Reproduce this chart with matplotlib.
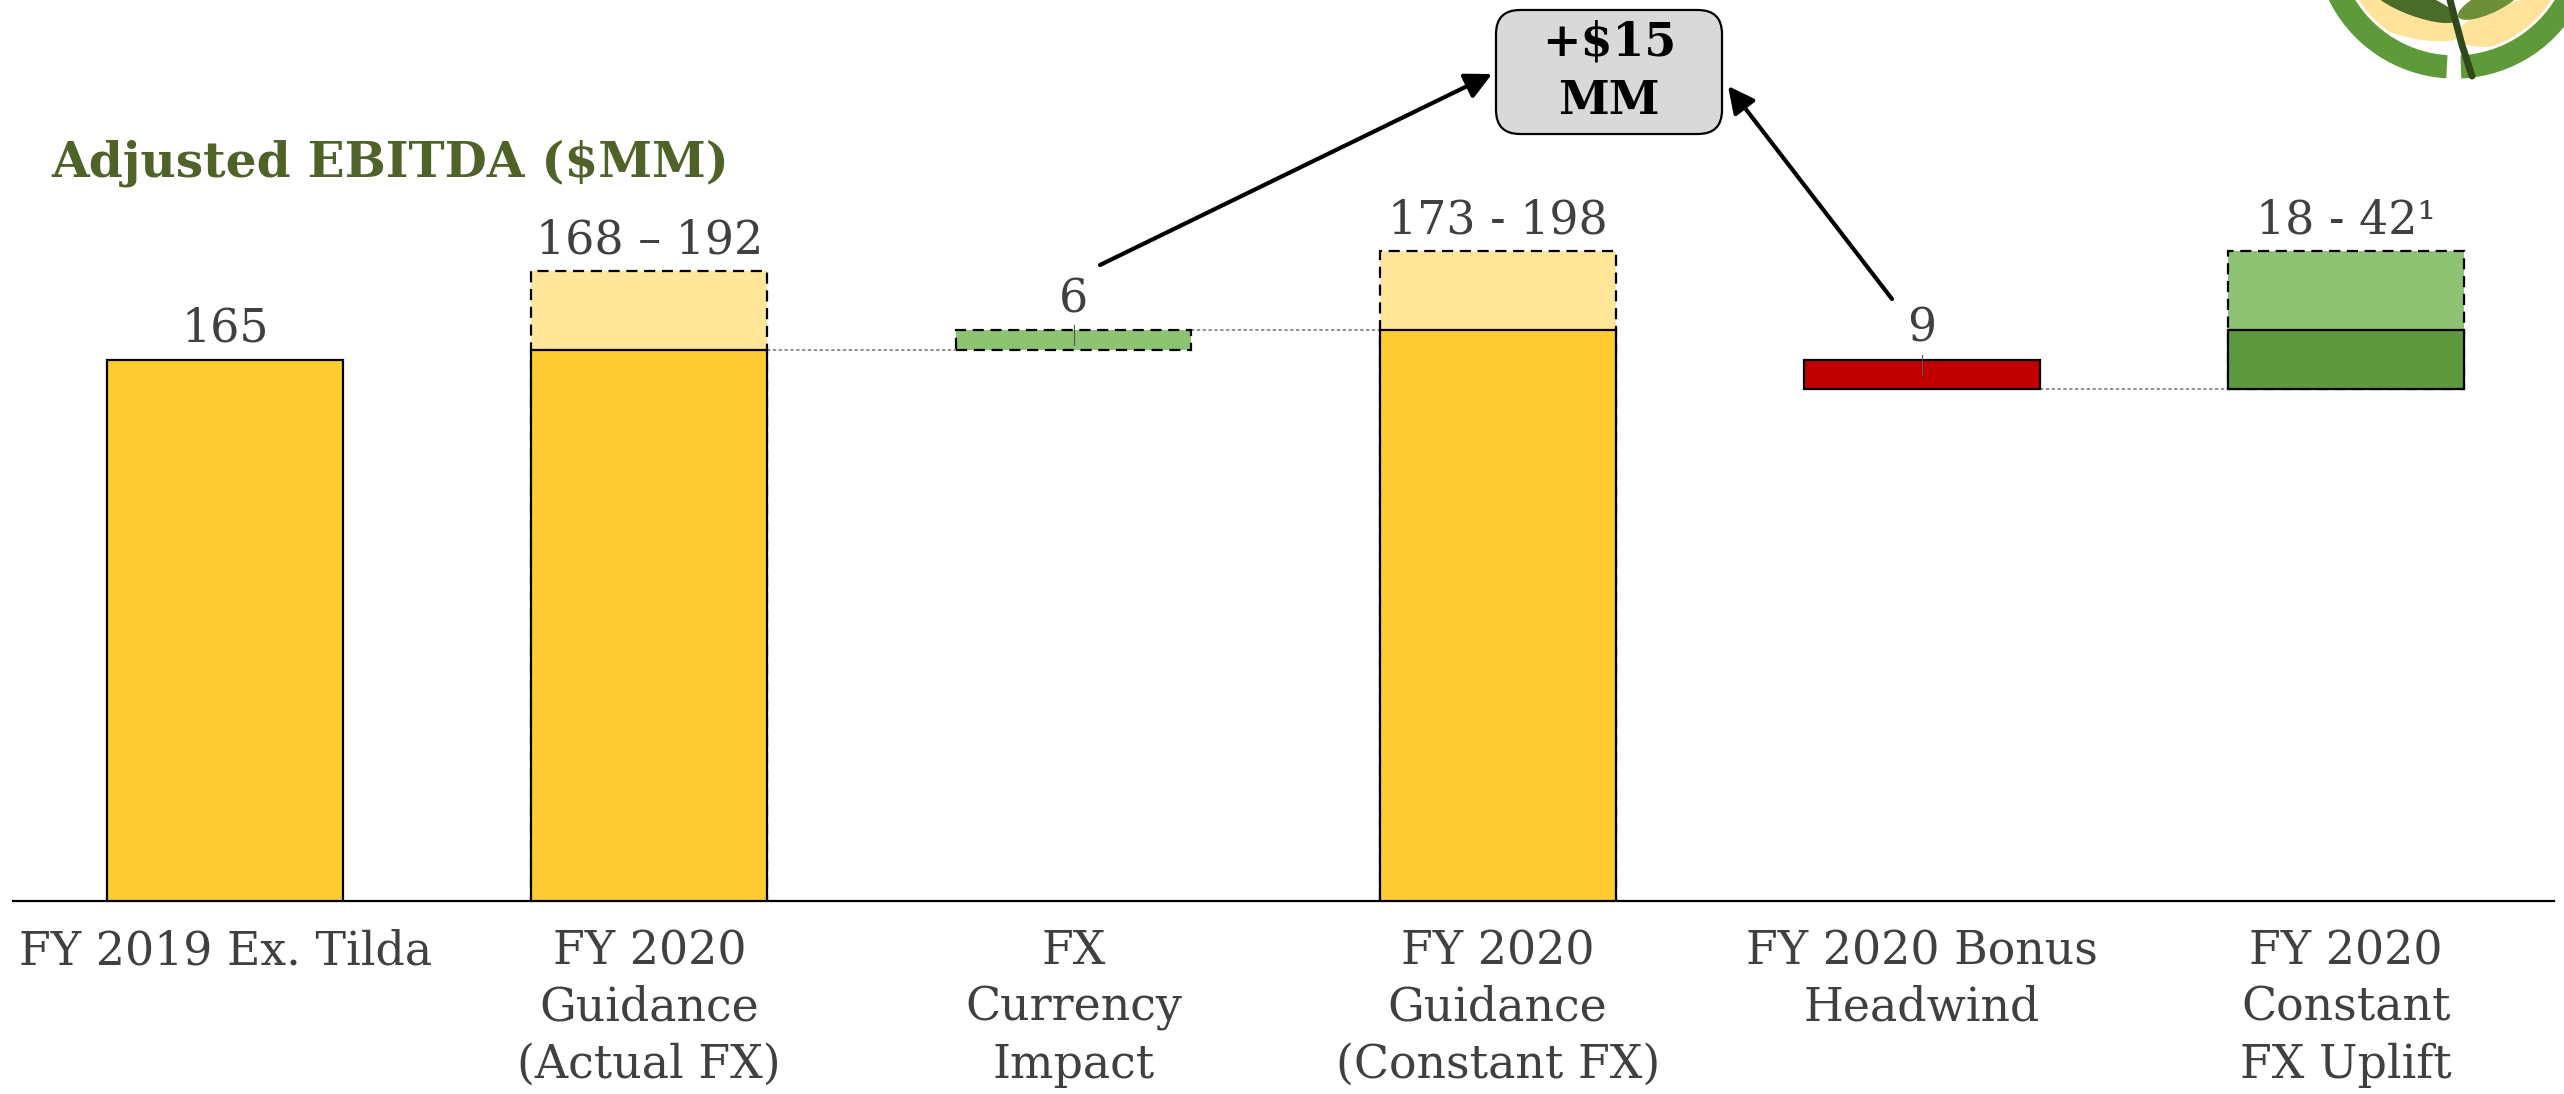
import matplotlib.pyplot as plt
from matplotlib.patches import FancyBboxPatch, Wedge, Ellipse
import numpy as np

plt.rcParams['font.family'] = ['DejaVu Serif']

# ---- data ----
categories = ["FY 2019 Ex. Tilda", "FY 2020\nGuidance\n(Actual FX)", "FX\nCurrency\nImpact",
              "FY 2020\nGuidance\n(Constant FX)", "FY 2020 Bonus\nHeadwind", "FY 2020\nConstant\nFX Uplift"]
bar_bottom = [0, 0, 168, 0, 156, 156]
solid_top = [165, 168, None, 174, 165, 174]     # solid part of the bar
range_top = [None, 192, 174, 198, None, 198]    # dashed (range) part of the bar
value_labels = ["165", "168 \u2013 192", "6", "173 - 198", "9", "18 - 42\u00b9"]
solid_colors = ['#FFCC33', '#FFCC33', None, '#FFCC33', '#C00000', '#5E993E']
range_colors = [None, '#FFE699', '#8DC372', '#FFE699', None, '#8DC372']
connectors = [(1, 2, 168), (2, 3, 174), (4, 5, 156)]  # from bar, to bar, level
callout = "+$15\nMM"

W, H = 2564, 1094
fig = plt.figure(figsize=(W / 100, H / 100), dpi=100)
ax = fig.add_axes([13 / W, 193 / H, 2541 / W, 901 / H])
ax.set_xlim(-0.5, 5.49)
ax.set_ylim(0, 274.6)

x = np.arange(len(categories))
bw = 0.556
txt = '#404040'

for i in range(len(categories)):
    b = bar_bottom[i]
    if range_top[i] is not None:
        ax.bar(x[i], range_top[i] - b, bw, bottom=b, color=range_colors[i],
               edgecolor='black', linewidth=1.6, linestyle=(0, (5, 3)), zorder=2)
    if solid_top[i] is not None:
        ax.bar(x[i], solid_top[i] - b, bw, bottom=b, color=solid_colors[i],
               edgecolor='black', linewidth=1.6, zorder=3)
    top = max(v for v in (solid_top[i], range_top[i]) if v is not None)
    ax.annotate(value_labels[i], (x[i], top), xytext=(0, 22), textcoords='offset points',
                ha='center', va='center', fontsize=33, color=txt)

# small tick remnants inside the thin bars
for i in (2, 4):
    t = solid_top[i] if solid_top[i] is not None else range_top[i]
    ax.plot([x[i], x[i]], [t + 1.5, t - 4.5 if i == 2 else t - 5], color='#555555', lw=0.8, zorder=4)

for a, b, lvl in connectors:
    ax.plot([x[a] + bw / 2, x[b] - bw / 2], [lvl, lvl], color='#7F7F7F', lw=1.2,
            linestyle=(0, (2, 1.5)), zorder=1)

for s in ('top', 'right', 'left'):
    ax.spines[s].set_visible(False)
ax.spines['bottom'].set_linewidth(1.6)
ax.set_yticks([])
ax.set_xticks(x)
ax.set_xticklabels(categories, fontsize=33, color=txt, linespacing=1.33)
ax.tick_params(axis='x', length=0, pad=20)

fig.text(51 / W, 1 - 163 / H, "Adjusted EBITDA ($MM)", fontsize=35, fontweight='bold',
         color='#4F6228', ha='left', va='center')

# overlay in pixel coordinates for callout and logo
ov = fig.add_axes([0, 0, 1, 1], zorder=5)
ov.set_xlim(0, W)
ov.set_ylim(H, 0)
ov.axis('off')
ov.patch.set_alpha(0)

ov.add_patch(FancyBboxPatch((1496, 10), 226, 124, boxstyle='round,pad=0,rounding_size=24',
                            fc='#D9D9D9', ec='black', lw=1.6))
ov.text(1609, 72, callout, ha='center', va='center', fontsize=33, fontweight='bold',
        color='black', linespacing=1.35)
arrow = dict(arrowstyle='-|>', lw=3, color='black', mutation_scale=40, shrinkA=0, shrinkB=0)
ov.annotate('', xy=(1492, 74), xytext=(1100, 265), arrowprops=arrow)
ov.annotate('', xy=(1728, 86), xytext=(1892, 299), arrowprops=arrow)

# logo (rough)
cx, cy = 2455, -62
ov.add_patch(Ellipse((2405, 18), 120, 36, angle=15, fc='#FFE39A', ec='none'))
ov.add_patch(Ellipse((2515, 22), 120, 40, angle=-15, fc='#FFE39A', ec='none'))
ov.add_patch(Wedge((cx, cy), 142, 25, 88, width=26, fc='#5E9A3A', ec='white', lw=2))
ov.add_patch(Wedge((cx, cy), 142, 93, 156, width=26, fc='#5E9A3A', ec='white', lw=2))
ov.add_patch(Ellipse((2415, 4), 90, 24, angle=20, fc='#4A6B2A', ec='none'))
ov.add_patch(Ellipse((2490, 2), 70, 22, angle=-25, fc='#6E8F3A', ec='none'))
ov.plot([2450, 2462, 2472], [0, 45, 76], color='#2F4A1A', lw=5, solid_capstyle='round')

fig.savefig('out.png', dpi=100)
